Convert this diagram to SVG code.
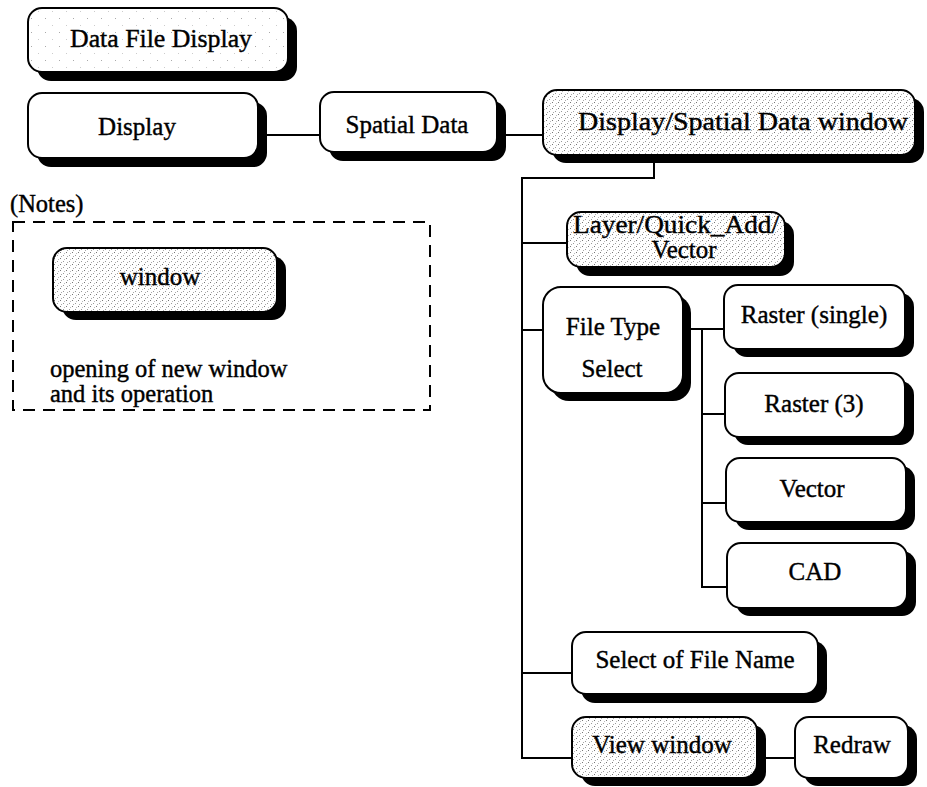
<svg xmlns="http://www.w3.org/2000/svg" width="927" height="787" viewBox="0 0 927 787">
  <style>
    .shadow { fill: #000; }
    .box { fill: #fff; stroke: #000; stroke-width: 2; }
    .win { fill: url(#dots); stroke: #000; stroke-width: 2; }
    .faint { fill: url(#dotsLight); stroke: #000; stroke-width: 2; }
    .label { font-family: "Liberation Serif", "Times New Roman", serif; font-size: 25px; fill: #000; stroke: #000; stroke-width: 0.4; text-anchor: middle; }
    .note { font-family: "Liberation Serif", "Times New Roman", serif; font-size: 24.5px; fill: #000; stroke: #000; stroke-width: 0.4; }
    .wire { fill: none; stroke: #000; stroke-width: 2; }
  </style>
  <defs>
    <!-- halftone screen used for window boxes -->
    <pattern id="dots" width="6" height="6" patternUnits="userSpaceOnUse">
      <rect width="6" height="6" fill="#fff"/>
      <rect x="0" y="0" width="1" height="1" fill="#777"/>
      <rect x="3" y="3" width="1" height="1" fill="#999"/>
      <rect x="4" y="1" width="1" height="1" fill="#bbb"/>
      <rect x="1" y="4" width="1" height="1" fill="#aaa"/>
    </pattern>
    <pattern id="dotsLight" width="14" height="14" patternUnits="userSpaceOnUse">
      <rect width="14" height="14" fill="#fff"/>
      <rect x="3" y="4" width="1" height="1" fill="#aaa"/>
      <rect x="10" y="11" width="1" height="1" fill="#ccc"/>
    </pattern>
  </defs>

  <!-- connectors -->
  <g id="connectors">
    <line class="wire" x1="266" y1="135" x2="320" y2="135"/>
    <line class="wire" x1="506" y1="135" x2="543" y2="135"/>
    <polyline class="wire" points="654,163 654,178 522,178 522,758 572,758"/>
    <line class="wire" x1="522" y1="243" x2="567" y2="243"/>
    <line class="wire" x1="522" y1="330" x2="543" y2="330"/>
    <line class="wire" x1="522" y1="673" x2="572" y2="673"/>
    <line class="wire" x1="690" y1="329" x2="724" y2="329"/>
    <polyline class="wire" points="702,329 702,587 727,587"/>
    <line class="wire" x1="702" y1="414" x2="725" y2="414"/>
    <line class="wire" x1="702" y1="503" x2="726" y2="503"/>
    <line class="wire" x1="765" y1="758" x2="795" y2="758"/>
  </g>

  <g id="data-file-display">
    <rect class="shadow" x="37" y="17" width="260" height="64" rx="14"/>
    <rect class="faint" x="28" y="8" width="260" height="64" rx="14"/>
    <text class="label" x="161" y="47" textLength="182" lengthAdjust="spacingAndGlyphs">Data File Display</text>
  </g>

  <g id="display">
    <rect class="shadow" x="37" y="102" width="230" height="65" rx="14"/>
    <rect class="box" x="28" y="93" width="230" height="65" rx="14"/>
    <text class="label" x="137" y="135">Display</text>
  </g>

  <g id="spatial-data">
    <rect class="shadow" x="329" y="101" width="177" height="60" rx="14"/>
    <rect class="box" x="320" y="92" width="177" height="60" rx="14"/>
    <text class="label" x="407" y="133">Spatial Data</text>
  </g>

  <g id="spatial-data-window">
    <rect class="shadow" x="552" y="98" width="372" height="65" rx="14"/>
    <rect class="win" x="543" y="90" width="372" height="65" rx="14"/>
    <text class="label" x="743" y="130" textLength="330" lengthAdjust="spacingAndGlyphs">Display/Spatial Data window</text>
  </g>

  <g id="quick-add-vector">
    <rect class="shadow" x="576" y="221" width="218" height="55" rx="14"/>
    <rect class="win" x="567" y="212" width="218" height="55" rx="14"/>
    <text class="label" x="676" y="233" textLength="206" lengthAdjust="spacingAndGlyphs">Layer/Quick_Add/</text>
    <text class="label" x="684" y="258">Vector</text>
  </g>

  <g id="file-type-select">
    <rect class="shadow" x="551" y="295" width="140" height="106" rx="18"/>
    <rect class="box" x="543" y="287" width="140" height="106" rx="18"/>
    <text class="label" x="613" y="335">File Type</text>
    <text class="label" x="612" y="377">Select</text>
  </g>

  <g id="raster-single">
    <rect class="shadow" x="733" y="293" width="181" height="64" rx="14"/>
    <rect class="box" x="724" y="285" width="181" height="64" rx="14"/>
    <text class="label" x="814" y="323">Raster (single)</text>
  </g>

  <g id="raster-3">
    <rect class="shadow" x="734" y="381" width="180" height="64" rx="14"/>
    <rect class="box" x="725" y="373" width="180" height="64" rx="14"/>
    <text class="label" x="814" y="412">Raster (3)</text>
  </g>

  <g id="vector">
    <rect class="shadow" x="735" y="466" width="180" height="64" rx="14"/>
    <rect class="box" x="726" y="458" width="180" height="64" rx="14"/>
    <text class="label" x="812" y="497">Vector</text>
  </g>

  <g id="cad">
    <rect class="shadow" x="736" y="551" width="180" height="65" rx="14"/>
    <rect class="box" x="727" y="543" width="180" height="65" rx="14"/>
    <text class="label" x="815" y="580">CAD</text>
  </g>

  <g id="select-file-name">
    <rect class="shadow" x="581" y="641" width="246" height="62" rx="14"/>
    <rect class="box" x="572" y="632" width="246" height="62" rx="14"/>
    <text class="label" x="695" y="668">Select of File Name</text>
  </g>

  <g id="view-window">
    <rect class="shadow" x="581" y="725" width="185" height="61" rx="14"/>
    <rect class="win" x="572" y="717" width="185" height="61" rx="14"/>
    <text class="label" x="662" y="753">View window</text>
  </g>

  <g id="redraw">
    <rect class="shadow" x="804" y="725" width="113" height="61" rx="14"/>
    <rect class="box" x="795" y="717" width="113" height="61" rx="14"/>
    <text class="label" x="852" y="753">Redraw</text>
  </g>

  <!-- legend -->
  <g id="notes">
    <text class="note" x="10" y="212">(Notes)</text>
    <rect x="13" y="222" width="417" height="188" fill="none" stroke="#000" stroke-width="2" stroke-dasharray="12 8"/>
    <g id="legend-window">
      <rect class="shadow" x="62" y="256" width="224" height="64" rx="14"/>
      <rect class="win" x="53" y="248" width="224" height="64" rx="14"/>
      <text class="label" x="160" y="285">window</text>
    </g>
    <text class="note" x="50" y="377">opening of new window</text>
    <text class="note" x="50" y="402">and its operation</text>
  </g>
</svg>
